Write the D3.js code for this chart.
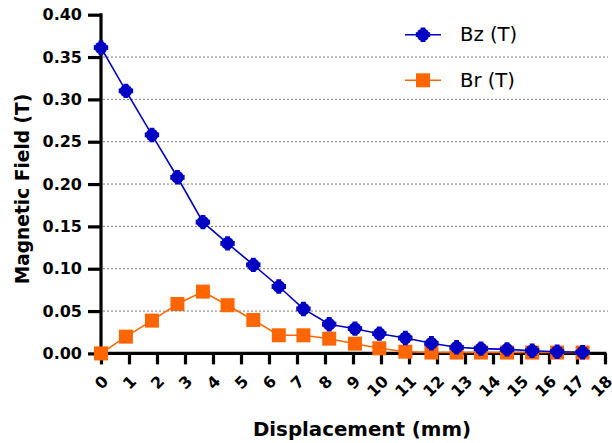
<!DOCTYPE html>
<html>
<head>
<meta charset="utf-8">
<script src="https://cdn.jsdelivr.net/npm/d3@7"></script>
<style>
  html, body { margin: 0; padding: 0; background: #fff; }
  svg { display: block; }
</style>
</head>
<body>
<svg id="chart" width="612" height="443"></svg>
<script>
// Displacement along the axis (mm)
const displacement = [0, 0.89, 1.82, 2.73, 3.64, 4.52, 5.44, 6.35, 7.23, 8.15,
                      9.07, 9.94, 10.87, 11.8, 12.7, 13.57, 14.5, 15.4, 16.29, 17.2];
// Axial field component (T)
const bz = [0.361, 0.310, 0.258, 0.208, 0.155, 0.130, 0.1045, 0.079, 0.0525, 0.0344,
            0.0292, 0.0233, 0.0182, 0.012, 0.0072, 0.0056, 0.0048, 0.0032, 0.002, 0.0013];
// Radial field component (T)
const br = [0, 0.0198, 0.0387, 0.0584, 0.073, 0.0569, 0.0395, 0.0214, 0.0214, 0.0174,
            0.0115, 0.006, 0.002, 0.001, 0.001, 0.001, 0.001, 0.001, 0.001, 0.001];
const xTicks = d3.range(0, 19);
const yTicks = [0, 0.05, 0.10, 0.15, 0.20, 0.25, 0.30, 0.35, 0.40];
const gridTicks = [0.05, 0.10, 0.15, 0.20, 0.25, 0.30, 0.35];
const seriesNames = ["Bz (T)", "Br (T)"];

const BLUE = "#0000C4";
const ORANGE = "#FF6600";
const FONT = "'DejaVu Sans', Verdana, sans-serif";

const svg = d3.select("#chart");
const x = d3.scaleLinear().domain([0, 18]).range([101, 605]);
const y = d3.scaleLinear().domain([0, 0.40]).range([353.4, 14.7]);

// dotted horizontal grid
svg.append("g").selectAll("line").data(gridTicks).join("line")
  .attr("x1", x(0) + 2).attr("x2", 608)
  .attr("y1", d => y(d)).attr("y2", d => y(d))
  .attr("stroke", "#7a7a7a").attr("stroke-width", 1)
  .attr("stroke-dasharray", "2,2");

// y axis
const yAxis = svg.append("g").attr("transform", `translate(${x(0)},0)`)
  .call(d3.axisLeft(y).tickValues(yTicks).tickFormat(d3.format(".2f"))
        .tickSize(13).tickPadding(6).tickSizeOuter(0));
yAxis.select(".domain").attr("stroke", "#000").attr("stroke-width", 3.2)
  .attr("d", `M0,${y(0.40) - 1.5}V${y(0) + 1.5}`);
yAxis.selectAll(".tick line").attr("stroke", "#000").attr("stroke-width", 3.2);
yAxis.selectAll(".tick text").attr("font-family", FONT).attr("font-weight", "bold")
  .attr("font-size", 16).attr("fill", "#000");

// x axis
const xAxis = svg.append("g").attr("transform", `translate(0,${y(0)})`)
  .call(d3.axisBottom(x).tickValues(xTicks).tickFormat(d3.format("d"))
        .tickSize(11).tickSizeOuter(0));
xAxis.select(".domain").attr("stroke", "#000").attr("stroke-width", 3.2)
  .attr("d", `M${x(0) - 1.5},0H${x(18) + 1.5}`);
xAxis.selectAll(".tick line").attr("stroke", "#000").attr("stroke-width", 3.2);
xAxis.selectAll(".tick text")
  .attr("font-family", FONT).attr("font-weight", "bold").attr("font-size", 16)
  .attr("fill", "#000")
  .attr("text-anchor", "end")
  .attr("dy", null)
  .attr("y", null)
  .attr("transform", "translate(4,25) rotate(-45)")
  .attr("dominant-baseline", "central");

// axis titles
svg.append("text")
  .attr("x", 362).attr("y", 436)
  .attr("text-anchor", "middle")
  .attr("font-family", FONT).attr("font-weight", "bold").attr("font-size", 19.8)
  .text("Displacement (mm)");
svg.append("text")
  .attr("transform", "translate(29,189) rotate(-90)")
  .attr("text-anchor", "middle")
  .attr("font-family", FONT).attr("font-weight", "bold").attr("font-size", 18.6)
  .text("Magnetic Field (T)");

const line = d3.line().x((d, i) => x(displacement[i])).y(d => y(d));

// Br series
svg.append("path").datum(br).attr("d", line)
  .attr("fill", "none").attr("stroke", ORANGE).attr("stroke-width", 1.6);
const squareSym = d3.symbol().type(d3.symbolSquare).size(196);
svg.append("g").selectAll("path").data(br).join("path")
  .attr("transform", (d, i) => `translate(${x(displacement[i])},${y(d)})`)
  .attr("d", squareSym).attr("fill", ORANGE);

// Bz series
svg.append("path").datum(bz).attr("d", line)
  .attr("fill", "none").attr("stroke", BLUE).attr("stroke-width", 1.6);
const crossSym = d3.symbol().type(d3.symbolCross).size(115);
const circleSym = d3.symbol().type(d3.symbolCircle).size(125);
function drawBzMarker(g) {
  g.append("path").attr("d", circleSym).attr("fill", BLUE);
  g.append("path").attr("d", crossSym).attr("fill", BLUE);
}
svg.append("g").selectAll("g").data(bz).join("g")
  .attr("transform", (d, i) => `translate(${x(displacement[i])},${y(d)})`)
  .each(function () { drawBzMarker(d3.select(this)); });

// legend
const legendRows = [
  { name: seriesNames[0], color: BLUE, y: 34.7, kind: "bz" },
  { name: seriesNames[1], color: ORANGE, y: 80.3, kind: "br" }
];
const lg = svg.append("g");
legendRows.forEach(r => {
  lg.append("line").attr("x1", 405).attr("x2", 441).attr("y1", r.y).attr("y2", r.y)
    .attr("stroke", r.color).attr("stroke-width", 1.6);
  const m = lg.append("g").attr("transform", `translate(423,${r.y})`);
  if (r.kind === "bz") drawBzMarker(m);
  else m.append("path").attr("d", squareSym).attr("fill", ORANGE);
  lg.append("text").attr("x", 460).attr("y", r.y)
    .attr("dominant-baseline", "central")
    .attr("font-family", FONT).attr("font-size", 19.6).attr("fill", "#000")
    .text(r.name);
});
</script>
</body>
</html>
